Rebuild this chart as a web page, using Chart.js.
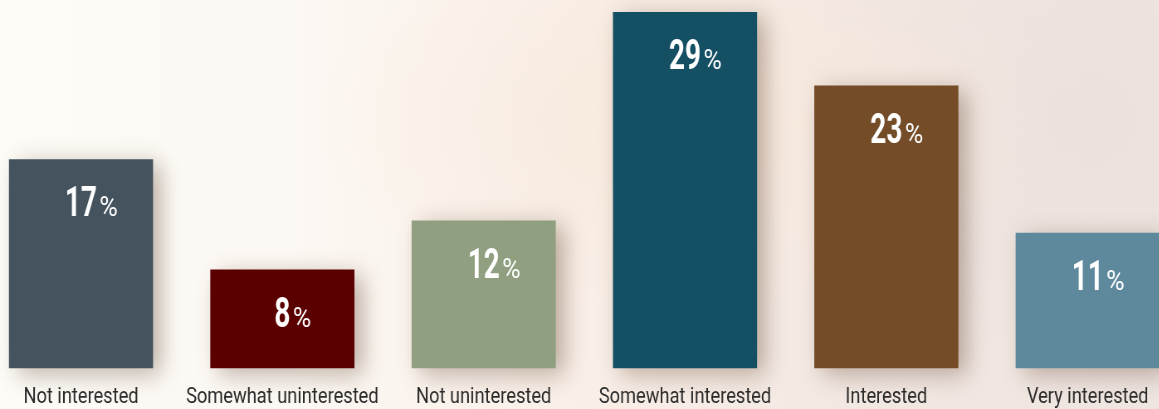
<!DOCTYPE html>
<html>
<head>
<meta charset="utf-8">
<script src="https://cdn.jsdelivr.net/npm/chart.js@4.4.1/dist/chart.umd.min.js"></script>
<style>
  html, body { margin: 0; padding: 0; width: 1159px; height: 409px; overflow: hidden; }
  body {
    background:
      radial-gradient(ellipse 520px 260px at 700px 120px, rgba(248, 233, 220, 0.85), rgba(248, 233, 220, 0) 75%),
      radial-gradient(ellipse 420px 300px at 1060px 120px, rgba(234, 224, 220, 0.8), rgba(234, 224, 220, 0) 80%),
      linear-gradient(90deg, #fdfcf7 0%, #fcf8f3 25%, #f9efe7 50%, #f2e8e2 75%, #eee5e0 100%);
  }
  #wrap { position: absolute; left: 0; top: 0; height: 409px; transform-origin: 0 0; }
  #chart { display: block; }
</style>
</head>
<body>
<div id="wrap"><canvas id="chart"></canvas></div>
<script>
const categories = [
  'Not interested',
  'Somewhat uninterested',
  'Not uninterested',
  'Somewhat interested',
  'Interested',
  'Very interested'
];
const shares = [17, 8, 12, 29, 23, 11];
const barColors = ['#44535e', '#5b0000', '#8f9f7f', '#144f63', '#744d28', '#5e899d'];

// The whole chart is drawn wide and squeezed horizontally, which gives the
// condensed lettering; horizontal sizes below are in the un-squeezed space.
const SQUEEZE = 0.83;
const PAGE_W = 1159, PAGE_H = 409;
const canvas = document.getElementById('chart');
const wrap = document.getElementById('wrap');
const drawW = Math.round(PAGE_W / SQUEEZE);
canvas.width = drawW;
canvas.height = PAGE_H;
wrap.style.width = drawW + 'px';
wrap.style.transform = 'scaleX(' + SQUEEZE + ')';

const FONT = 'Roboto, "Noto Sans", sans-serif';

// Soft drop shadow behind the bars
const barShadow = {
  id: 'barShadow',
  beforeDatasetsDraw(chart) {
    const ctx = chart.ctx;
    ctx.save();
    ctx.shadowColor = 'rgba(95, 65, 45, 0.40)';
    ctx.shadowBlur = 24;
    ctx.shadowOffsetX = 10;
    ctx.shadowOffsetY = 6;
  },
  afterDatasetsDraw(chart) {
    chart.ctx.restore();
  }
};

// White percentage labels inside the top of each bar
const valueLabels = {
  id: 'valueLabels',
  afterDatasetsDraw(chart) {
    const ctx = chart.ctx;
    const meta = chart.getDatasetMeta(0);
    const values = chart.data.datasets[0].data;
    const numSqueeze = 0.8;
    meta.data.forEach((bar, i) => {
      const num = String(values[i]);
      const y = bar.y + 57;
      ctx.save();
      ctx.fillStyle = '#ffffff';
      ctx.textBaseline = 'alphabetic';
      ctx.textAlign = 'left';
      ctx.font = 'bold 42px ' + FONT;
      const wNum = ctx.measureText(num).width * numSqueeze;
      ctx.translate(bar.x - wNum / 2, y);
      ctx.scale(numSqueeze, 1);
      ctx.fillText(num, 0, 0);
      ctx.restore();

      ctx.save();
      ctx.fillStyle = '#ffffff';
      ctx.textBaseline = 'alphabetic';
      ctx.textAlign = 'left';
      ctx.font = '27px ' + FONT;
      ctx.translate(bar.x + wNum / 2 + 3, y);
      ctx.scale(1.12, 1);
      ctx.fillText('%', 0, 0);
      ctx.restore();
    });
  }
};

new Chart(canvas, {
  type: 'bar',
  data: {
    labels: categories,
    datasets: [{
      data: shares,
      backgroundColor: barColors,
      borderWidth: 0,
      barThickness: Math.round(144 / SQUEEZE),
      clip: false
    }]
  },
  options: {
    responsive: false,
    devicePixelRatio: 1,
    animation: false,
    layout: { padding: { left: 81 / SQUEEZE, right: 71 / SQUEEZE, top: 0, bottom: 0 } },
    plugins: { legend: { display: false }, tooltip: { enabled: false } },
    scales: {
      x: {
        offset: false,
        grid: { display: false, drawTicks: false, tickLength: 0 },
        border: { display: false },
        ticks: {
          color: '#2a2a2a',
          font: { family: FONT, size: 22, lineHeight: 2.3 },
          padding: 4,
          maxRotation: 0,
          autoSkip: false
        },
        afterFit(scale) { scale.height = 41; }
      },
      y: {
        display: false,
        min: 0,
        max: 30
      }
    }
  },
  plugins: [barShadow, valueLabels]
});
</script>
</body>
</html>
